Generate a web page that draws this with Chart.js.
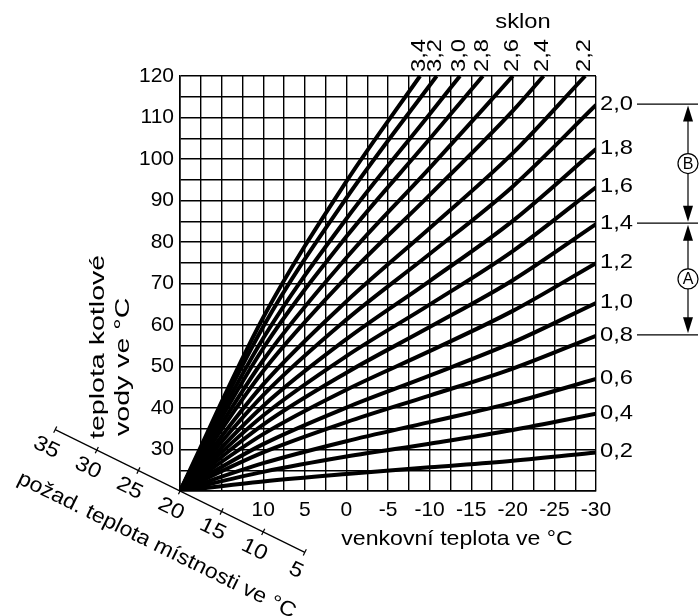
<!DOCTYPE html>
<html lang="cs">
<head>
<meta charset="utf-8">
<title>Topné křivky</title>
<script src="https://cdn.jsdelivr.net/npm/chart.js@4.4.1/dist/chart.umd.min.js"></script>
<style>
    html, body { margin: 0; padding: 0; background: #fff; }
    canvas { display: block; }
</style>
</head>
<body>
<canvas id="heatingChart" width="699" height="616"></canvas>
<script>
/* ================================
   TOPNÉ KŘIVKY (sklon 0,2 - 3,4)
   ================================ */

// Outdoor temperatures where the curves were read
const outdoorTemps = [20, 10, 0, -10, -20, -30];

// Boiler water temperature per slope (°C), read at outdoorTemps
const slope02 = [20, 22.3, 24.1, 25.7, 27.3, 29.3];
const slope04 = [20, 24.6, 28.3, 31.4, 34.7, 38.6];
const slope06 = [20, 26.7, 32.0, 36.6, 41.3, 47.0];
const slope08 = [20, 29.3, 36.6, 43.0, 49.5, 57.4];
const slope10 = [20, 31.3, 40.1, 47.8, 55.8, 65.3];
const slope12 = [20, 33.7, 44.4, 53.7, 63.4, 74.9];
const slope14 = [20, 36.0, 48.5, 59.5, 70.8, 84.3];
const slope16 = [20, 38.2, 52.5, 64.9, 77.8, 93.2];
const slope18 = [20, 40.5, 56.6, 70.6, 85.1, 102.4];
const slope20 = [20, 43.1, 61.3, 77.1, 93.4, 113.0];
const slope22 = [20, 45.7, 65.7, 83.3, 101.4];
const slope24 = [20, 48.9, 71.5, 91.3, 111.6];
const slope26 = [20, 51.5, 76.2, 97.8];
const slope28 = [20, 54.4, 81.3, 104.8];
const slope30 = [20, 56.8, 85.6, 110.8];
const slope32 = [20, 59.6, 90.6];
const slope34 = [20, 61.8, 94.6];

// Where the steep curves (2,2 - 3,4) leave the grid at the top
const topExitTemps = [-28.7, -23.7, -20, -16.4, -13.65, -10.85, -8.85];
const gridTop = 120;

const slopeLabels = ['0,2', '0,4', '0,6', '0,8', '1,0', '1,2', '1,4', '1,6', '1,8', '2,0',
                     '2,2', '2,4', '2,6', '2,8', '3,0', '3,2', '3,4'];
const slopeCurves = [slope02, slope04, slope06, slope08, slope10, slope12, slope14, slope16, slope18, slope20,
                     slope22, slope24, slope26, slope28, slope30, slope32, slope34];

// Desired room temperature (diagonal scale)
const roomTemps = [35, 30, 25, 20, 15, 10, 5];

// Range markers on the right: [upper slope, lower slope, letter]
const rangeMarks = [['2,0', '1,4', 'B'], ['1,4', '0,8', 'A']];

const FONT = "'Liberation Sans', Arial, sans-serif";
const STRETCH = 1.13;
const ROOM_AXIS_ANGLE = 26.2 * Math.PI / 180;

// Build datasets
function buildDatasets() {
    return slopeCurves.map(function(values, i) {
        const points = values.map(function(v, j) {
            return { x: outdoorTemps[j], y: v };
        });
        const topIndex = i - 10;
        if (topIndex >= 0) {
            points.push({ x: topExitTemps[topIndex], y: gridTop });
        }
        return {
            label: slopeLabels[i],
            data: points,
            borderColor: '#000',
            borderWidth: 4,
            pointRadius: 0,
            cubicInterpolationMode: 'monotone',
            fill: false
        };
    });
}

// Text helper (wide lettering like the original)
function drawText(ctx, text, x, y, angle, align, baseline, size, stretch) {
    ctx.save();
    ctx.translate(x, y);
    ctx.rotate(angle || 0);
    ctx.scale(stretch || STRETCH, 1);
    ctx.font = (size || 20) + 'px ' + FONT;
    ctx.fillStyle = '#000';
    ctx.textAlign = align || 'center';
    ctx.textBaseline = baseline || 'middle';
    ctx.fillText(text, 0, 0);
    ctx.restore();
}

function arrowHead(ctx, x, tipY, dir) {
    // dir = -1 points up, 1 points down
    ctx.beginPath();
    ctx.moveTo(x, tipY);
    ctx.lineTo(x - 5, tipY - dir * 16);
    ctx.lineTo(x + 5, tipY - dir * 16);
    ctx.closePath();
    ctx.fill();
}

const extrasPlugin = {
    id: 'extras',
    afterDraw(chart) {
        const ctx = chart.ctx;
        const xs = chart.scales.x;
        const ys = chart.scales.y;
        const endY = {};

        // Slope labels at the right edge and along the top
        chart.data.datasets.forEach(function(ds, i) {
            const last = ds.data[ds.data.length - 1];
            const px = xs.getPixelForValue(last.x);
            const py = ys.getPixelForValue(last.y);
            if (i < 10) {
                drawText(ctx, ds.label, xs.right + 4, py - 1, 0, 'left', 'middle', 21);
                endY[ds.label] = py - 1;
            } else {
                drawText(ctx, ds.label, px - 1, ys.top - 4, -Math.PI / 2, 'left', 'middle', 21);
            }
        });
        drawText(ctx, 'sklon', 523, 22, 0, 'center', 'middle', 21);

        // Range markers A / B
        ctx.save();
        ctx.strokeStyle = '#000';
        ctx.fillStyle = '#000';
        ctx.lineWidth = 1.2;
        const mx = 688;
        ['2,0', '1,4', '0,8'].forEach(function(lbl) {
            ctx.beginPath();
            ctx.moveTo(xs.right + 41, endY[lbl]);
            ctx.lineTo(698, endY[lbl]);
            ctx.stroke();
        });
        rangeMarks.forEach(function(m) {
            const y1 = endY[m[0]] + 1.5;
            const y2 = endY[m[1]] - 1.5;
            const c = (y1 + y2) / 2;
            ctx.beginPath();
            ctx.moveTo(mx, y1 + 14);
            ctx.lineTo(mx, c - 10);
            ctx.moveTo(mx, c + 10);
            ctx.lineTo(mx, y2 - 14);
            ctx.stroke();
            arrowHead(ctx, mx, y1, -1);
            arrowHead(ctx, mx, y2, 1);
            ctx.beginPath();
            ctx.arc(mx, c, 10, 0, Math.PI * 2);
            ctx.stroke();
            ctx.font = '16px ' + FONT;
            ctx.textAlign = 'center';
            ctx.textBaseline = 'middle';
            ctx.fillText(m[2], mx, c + 1);
        });
        ctx.restore();

        // Diagonal room temperature scale through the origin
        const x0 = xs.getPixelForValue(20);
        const y0 = ys.getPixelForValue(20);
        const sinA = Math.sin(ROOM_AXIS_ANGLE);
        const cosA = Math.cos(ROOM_AXIS_ANGLE);
        const tanA = Math.tan(ROOM_AXIS_ANGLE);
        const pt = function(r) {
            const px = xs.getPixelForValue(r);
            return [px, y0 + (px - x0) * tanA];
        };
        ctx.save();
        ctx.strokeStyle = '#000';
        ctx.lineWidth = 1.2;
        const a = pt(roomTemps[0]);
        const b = pt(roomTemps[roomTemps.length - 1]);
        ctx.beginPath();
        ctx.moveTo(a[0], a[1]);
        ctx.lineTo(b[0], b[1]);
        ctx.stroke();
        roomTemps.forEach(function(r) {
            const p = pt(r);
            ctx.beginPath();
            ctx.moveTo(p[0] - sinA * 3.5, p[1] + cosA * 3.5);
            ctx.lineTo(p[0] + sinA * 3.5, p[1] - cosA * 3.5);
            ctx.stroke();
            drawText(ctx, String(r), p[0] - sinA * 20, p[1] + cosA * 20, ROOM_AXIS_ANGLE, 'center', 'middle', 21);
        });
        ctx.restore();
        drawText(ctx, 'požad. teplota místnosti ve °C',
            x0 + cosA * 3 - sinA * 59, y0 + sinA * 3 + cosA * 59,
            ROOM_AXIS_ANGLE, 'center', 'middle', 21, 1.1);

        // Axis titles
        drawText(ctx, 'teplota kotlové', 104, 439, -Math.PI / 2, 'left', 'alphabetic', 21, 1.36);
        drawText(ctx, 'vody ve °C', 129, 436, -Math.PI / 2, 'left', 'alphabetic', 21, 1.36);
        drawText(ctx, 'venkovní teplota ve °C', 457, 539, 0, 'center', 'middle', 21, 1.1);
    }
};

// Initialize chart
function initializeChart() {
    const canvas = document.getElementById('heatingChart');
    new Chart(canvas, {
        type: 'line',
        data: { datasets: buildDatasets() },
        options: {
            responsive: false,
            animation: false,
            layout: { padding: { top: 76, right: 103, left: 0, bottom: 0 } },
            plugins: {
                legend: { display: false },
                tooltip: { enabled: false }
            },
            scales: {
                x: {
                    type: 'linear',
                    reverse: true,
                    min: -30,
                    max: 20,
                    afterFit: function(scale) { scale.height = 125; },
                    grid: { color: '#000', lineWidth: 1.4, drawTicks: false },
                    border: { color: '#000', width: 1.6 },
                    ticks: {
                        stepSize: 2.5,
                        autoSkip: false,
                        maxRotation: 0,
                        padding: 7,
                        color: '#000',
                        font: { family: FONT, size: 21 },
                        callback: function(v) {
                            return (v % 5 === 0 && v <= 10) ? String(v) : '';
                        }
                    }
                },
                y: {
                    type: 'linear',
                    min: 20,
                    max: gridTop,
                    afterFit: function(scale) { scale.width = 180; },
                    grid: { color: '#000', lineWidth: 1.4, drawTicks: false },
                    border: { color: '#000', width: 1.6 },
                    ticks: {
                        stepSize: 5,
                        autoSkip: false,
                        padding: 6,
                        color: '#000',
                        font: { family: FONT, size: 21 },
                        callback: function(v) {
                            return (v % 10 === 0 && v >= 30) ? String(v) : '';
                        }
                    }
                }
            }
        },
        plugins: [extrasPlugin]
    });
}

document.addEventListener('DOMContentLoaded', initializeChart);
</script>
</body>
</html>
